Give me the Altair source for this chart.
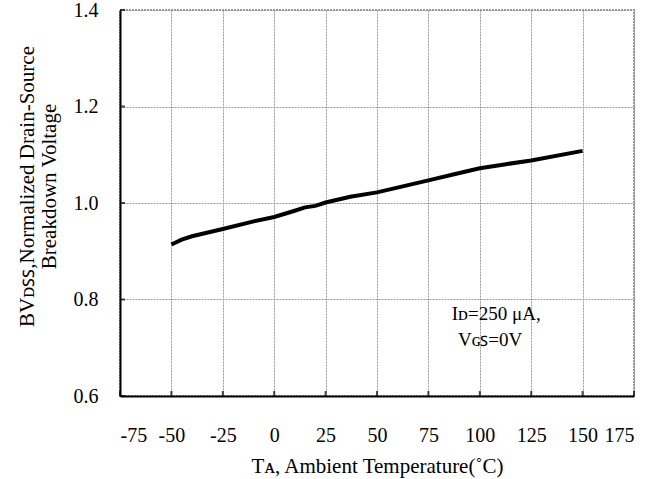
import altair as alt
import pandas as pd

temps = [-50, -45, -40, -25, -10, 0, 10, 15, 20, 25, 37, 50, 62, 75, 87, 100, 112, 125, 150]
bv = [0.914, 0.924, 0.931, 0.946, 0.962, 0.971, 0.984, 0.991, 0.994, 1.001, 1.013, 1.022, 1.034, 1.047, 1.059, 1.072, 1.080, 1.088, 1.108]

x_ticks = [-75, -50, -25, 0, 25, 50, 75, 100, 125, 150, 175]
y_ticks = [0.6, 0.8, 1.0, 1.2, 1.4]

note_lines = ["Iᴅ=250 μA,", "Vɢꜱ=0V"]
note_x = [108, 105]
note_y = [0.770, 0.716]

FONT = "Liberation Serif"

df = pd.DataFrame({"T": temps, "BV": bv})
notes = pd.DataFrame({"t": note_lines, "x": note_x, "y": note_y})
xt = pd.DataFrame({"x": x_ticks, "y": [0.6] * len(x_ticks)})
yt = pd.DataFrame({"x": [-75] * len(y_ticks), "y": y_ticks})

xscale = alt.Scale(domain=[-75, 175], nice=False, zero=False)
yscale = alt.Scale(domain=[0.6, 1.4], nice=False, zero=False)

xaxis = alt.Axis(values=x_ticks, labelExpr="'' + datum.value", title="Tᴀ, Ambient Temperature(˚C)",
                 tickSize=0, labelPadding=29, titlePadding=10,
                 grid=True, gridColor="#9a9a9a", gridDash=[2, 1], gridWidth=1,
                 domainColor="black", domainWidth=2,
                 labelFont=FONT, labelFontSize=20, labelColor="black",
                 titleFont=FONT, titleFontSize=21, titleFontWeight="normal", titleColor="black")
yaxis = alt.Axis(values=y_ticks, format=".1f",
                 title=["BVᴅꜱꜱ,Normalized Drain-Source", "Breakdown Voltage"],
                 tickSize=0, labelPadding=22, titlePadding=14, titleY=176,
                 grid=True, gridColor="#9a9a9a", gridDash=[2, 1], gridWidth=1,
                 domainColor="black", domainWidth=2,
                 labelFont=FONT, labelFontSize=20, labelColor="black",
                 titleFont=FONT, titleFontSize=21, titleFontWeight="normal", titleColor="black",
                 titleLineHeight=22)

line = alt.Chart(df).mark_line(color="black", strokeWidth=4).encode(
    x=alt.X("T:Q", scale=xscale, axis=xaxis),
    y=alt.Y("BV:Q", scale=yscale, axis=yaxis),
)

xticks = alt.Chart(xt).mark_tick(color="black", size=5, thickness=2, yOffset=-2.5, orient="vertical").encode(
    x=alt.X("x:Q", scale=xscale), y=alt.Y("y:Q", scale=yscale))
yticks = alt.Chart(yt).mark_tick(color="black", size=5, thickness=2, xOffset=2.5, orient="horizontal").encode(
    x=alt.X("x:Q", scale=xscale), y=alt.Y("y:Q", scale=yscale))

text = alt.Chart(notes).mark_text(font=FONT, fontSize=19, color="black", align="center").encode(
    x=alt.X("x:Q", scale=xscale), y=alt.Y("y:Q", scale=yscale), text="t:N")

chart = alt.layer(line, xticks, yticks, text).properties(
    width=514, height=386,
    padding={"left": 120, "top": 10, "right": 33, "bottom": 83},
    autosize=alt.AutoSizeParams(type="none"),
    background="white",
).configure_view(stroke="#9a9a9a", strokeWidth=2, strokeDash=[2, 1])

chart.save("out.html", embed_options={"renderer": "svg", "actions": False})
